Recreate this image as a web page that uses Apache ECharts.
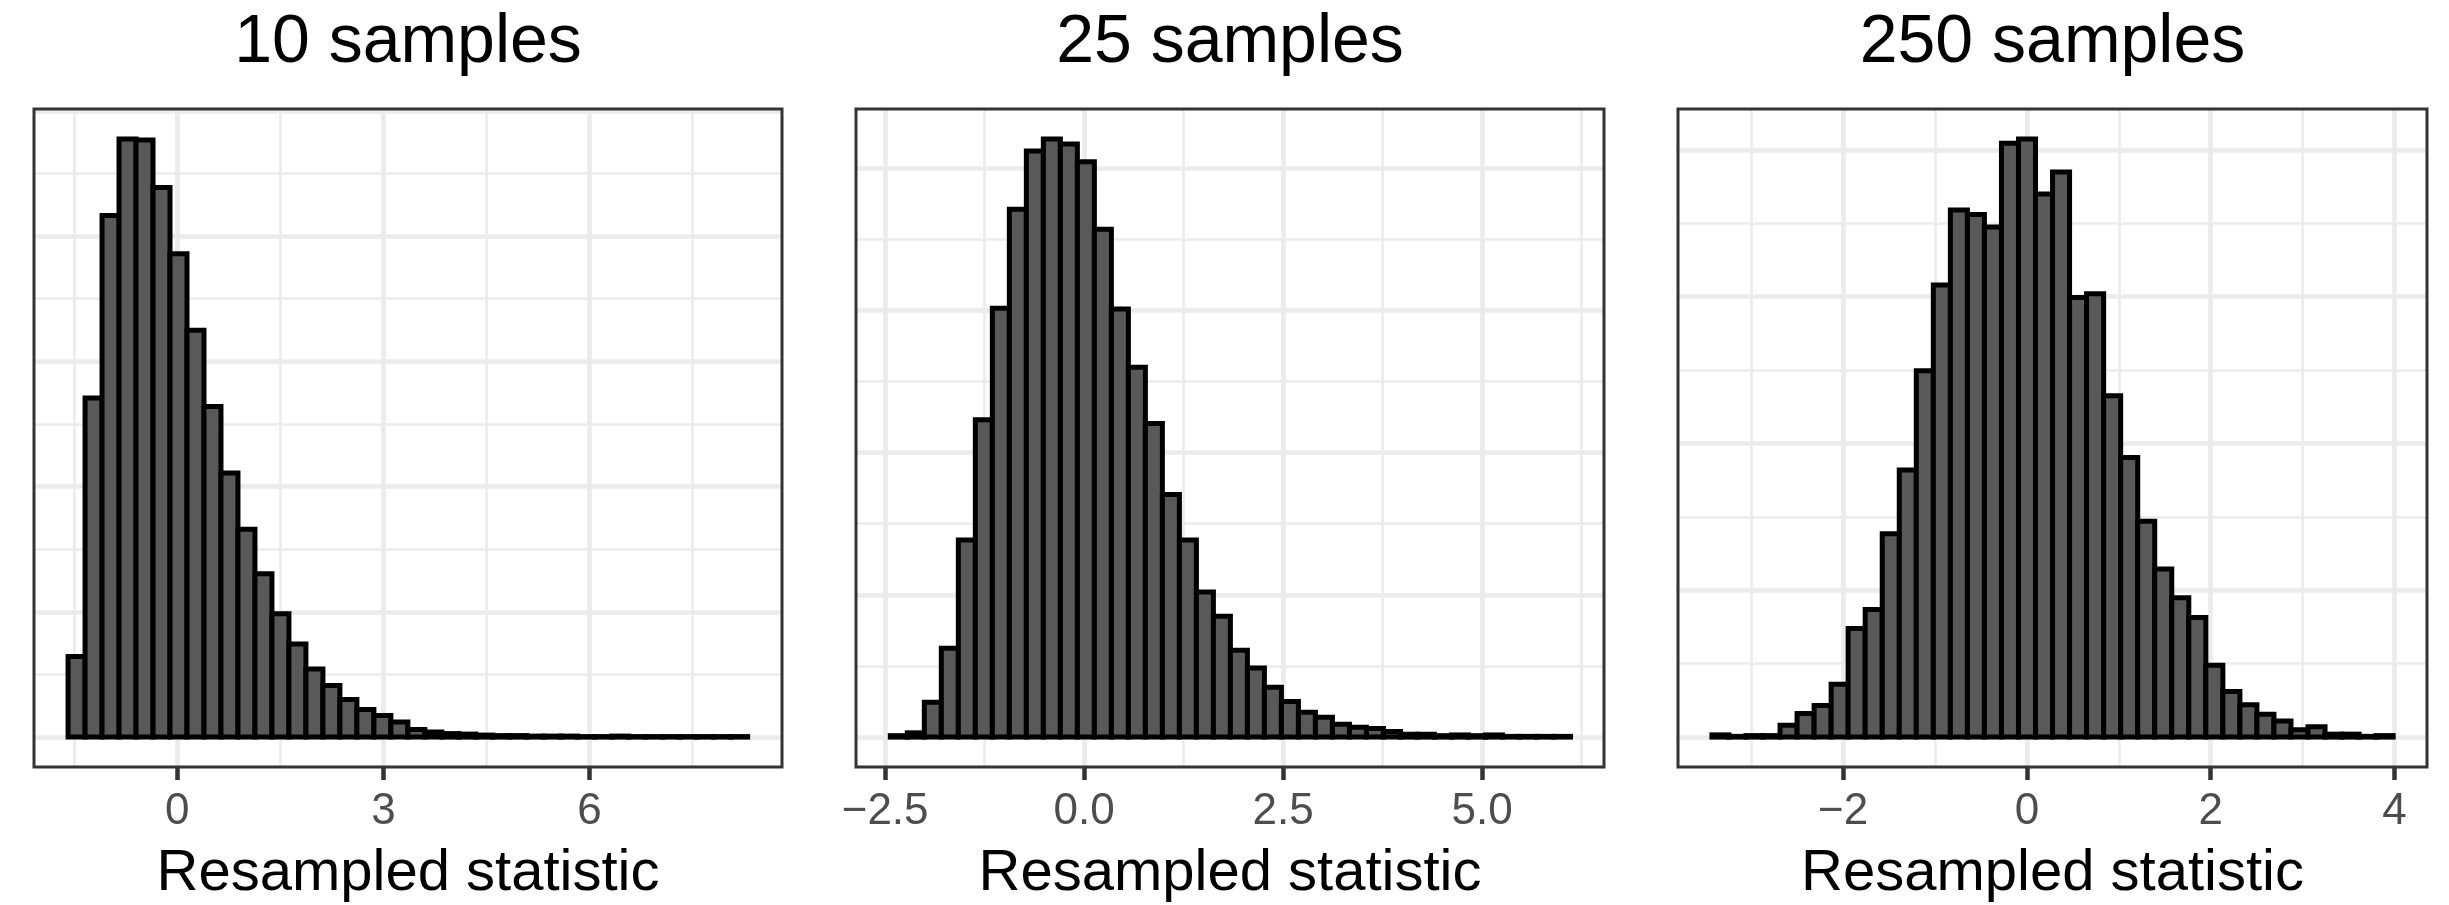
<!DOCTYPE html>
<html>
<head>
<meta charset="utf-8">
<title>Resampled statistic</title>
<script src="https://cdn.jsdelivr.net/npm/echarts@6/dist/echarts.min.js"></script>
<style>
  html, body { margin: 0; padding: 0; background: #ffffff; }
  #chart { width: 2449px; height: 905px; }
</style>
</head>
<body>
<div id="chart"></div>
<script>
// panel titles
const titles = ['10 samples', '25 samples', '250 samples'];

// histogram bins: left edge of first bin, bin width, counts (40 bins each)
const binStart = [-1.591, -2.435, -3.427];
const binWidth = [0.24735, 0.2136, 0.1853];
const counts10 = [161, 677, 1041, 1194, 1192, 1097, 965, 812, 660, 527,
                  415, 326, 246, 186, 136, 103, 75, 55, 43, 30,
                  15, 10, 7, 6, 4, 3, 3, 2, 2, 2,
                  1, 1, 2, 1, 1, 1, 1, 1, 1, 1];
const counts25 = [2, 6, 49, 125, 277, 446, 603, 742, 824, 841,
                  834, 809, 714, 602, 520, 441, 341, 277, 204, 170,
                  122, 97, 70, 50, 35, 28, 18, 14, 12, 8,
                  4, 4, 2, 3, 2, 3, 1, 1, 1, 1];
const counts250 = [3, 1, 2, 2, 16, 32, 43, 72, 148, 174,
                   277, 364, 499, 616, 718, 712, 695, 809, 815, 740,
                   770, 599, 604, 465, 381, 294, 229, 190, 163, 98,
                   62, 44, 31, 22, 10, 14, 4, 4, 1, 2];

// x axis limits
const xMin = [-2.087, -2.866, -3.796];
const xMax = [8.803, 6.53, 4.353];

// x ticks (major gridlines) and labels
const ticks10 = [0, 3, 6];
const tickLabels10 = ['0', '3', '6'];
const ticks25 = [-2.5, 0, 2.5, 5];
const tickLabels25 = ['\u22122.5', '0.0', '2.5', '5.0'];
const ticks250 = [-2, 0, 2, 4];
const tickLabels250 = ['\u22122', '0', '2', '4'];

// minor vertical gridlines
const minorX10 = [-1.5, 1.5, 4.5, 7.5];
const minorX25 = [-1.25, 1.25, 3.75, 6.25];
const minorX250 = [-3, -1, 1, 3];

// horizontal gridlines (count scale, labels hidden)
const majorY10 = [0, 250, 500, 750, 1000, 1250];
const minorY10 = [125, 375, 625, 875, 1125];
const majorY25 = [0, 200, 400, 600, 800];
const minorY25 = [100, 300, 500, 700];
const majorY250 = [0, 200, 400, 600, 800];
const minorY250 = [100, 300, 500, 700];

const panels = [
  { counts: counts10, ticks: ticks10, labels: tickLabels10, minorX: minorX10, majorY: majorY10, minorY: minorY10 },
  { counts: counts25, ticks: ticks25, labels: tickLabels25, minorX: minorX25, majorY: majorY25, minorY: minorY25 },
  { counts: counts250, ticks: ticks250, labels: tickLabels250, minorX: minorX250, majorY: majorY250, minorY: minorY250 }
];

// layout (px)
const panelLeft = [34, 856, 1678];
const panelWidth = [748, 748, 749];
const panelTop = 109;
const panelHeight = 658;

const chart = echarts.init(document.getElementById('chart'));

const grids = [], xAxes = [], yAxes = [], series = [], titleList = [], frames = [];

panels.forEach((p, k) => {
  const maxCount = Math.max(...p.counts);

  grids.push({
    left: panelLeft[k], top: panelTop, width: panelWidth[k], height: panelHeight,
    containLabel: false, outerBoundsMode: 'none', show: false
  });

  xAxes.push({
    type: 'value', gridIndex: k, min: xMin[k], max: xMax[k],
    name: 'Resampled statistic', nameLocation: 'middle', nameGap: 78,
    nameTextStyle: { fontSize: 58, color: '#000000', fontFamily: 'Liberation Sans' },
    axisLine: { show: false, onZero: false },
    axisTick: { show: true, customValues: p.ticks, length: 13, lineStyle: { color: '#333333', width: 4.5 } },
    axisLabel: {
      customValues: p.ticks, margin: 23, fontSize: 44, color: '#4D4D4D', fontFamily: 'Liberation Sans',
      formatter: v => {
        const i = p.ticks.findIndex(t => Math.abs(t - v) < 1e-9);
        return i >= 0 ? p.labels[i] : '';
      }
    },
    splitLine: { show: false }
  });

  yAxes.push({
    type: 'value', gridIndex: k, min: -0.05 * maxCount, max: 1.05 * maxCount, show: false
  });

  // gridlines
  const gl = [];
  p.minorX.forEach(v => gl.push({ xAxis: v, lineStyle: { width: 2.6 } }));
  p.minorY.forEach(v => gl.push({ yAxis: v, lineStyle: { width: 2.6 } }));
  p.ticks.forEach(v => gl.push({ xAxis: v, lineStyle: { width: 4.7 } }));
  p.majorY.forEach(v => gl.push({ yAxis: v, lineStyle: { width: 4.7 } }));

  series.push({
    type: 'line', xAxisIndex: k, yAxisIndex: k, data: [], silent: true, z: 1,
    markLine: {
      silent: true, symbol: ['none', 'none'], label: { show: false }, animation: false, z: 1,
      lineStyle: { type: 'solid', color: '#EBEBEB' },
      emphasis: { disabled: true },
      data: gl
    }
  });

  // histogram bars
  const data = p.counts.map((c, i) => [binStart[k] + i * binWidth[k], binStart[k] + (i + 1) * binWidth[k], c]);
  series.push({
    type: 'custom', xAxisIndex: k, yAxisIndex: k, z: 3, silent: true,
    encode: { x: [0, 1], y: 2 },
    data: data,
    renderItem: (params, api) => {
      const p0 = api.coord([api.value(0), 0]);
      const p1 = api.coord([api.value(1), api.value(2)]);
      return {
        type: 'rect',
        shape: { x: p0[0], y: p1[1], width: p1[0] - p0[0], height: p0[1] - p1[1] },
        style: { fill: '#595959', stroke: '#000000', lineWidth: 5 }
      };
    }
  });

  titleList.push({
    text: titles[k], left: panelLeft[k] + panelWidth[k] / 2, top: 9, textAlign: 'center', padding: 0,
    textStyle: { fontSize: 68, fontWeight: 'normal', color: '#000000', fontFamily: 'Liberation Sans' }
  });

  frames.push({
    type: 'rect', silent: true, z: 100,
    shape: { x: panelLeft[k], y: panelTop, width: panelWidth[k], height: panelHeight },
    style: { fill: 'transparent', stroke: '#333333', lineWidth: 3 }
  });
});

chart.setOption({
  animation: false,
  backgroundColor: '#ffffff',
  textStyle: { fontFamily: 'Liberation Sans' },
  title: titleList,
  grid: grids,
  xAxis: xAxes,
  yAxis: yAxes,
  series: series,
  graphic: frames
});

window.onresize = () => chart.resize();
</script>
</body>
</html>
